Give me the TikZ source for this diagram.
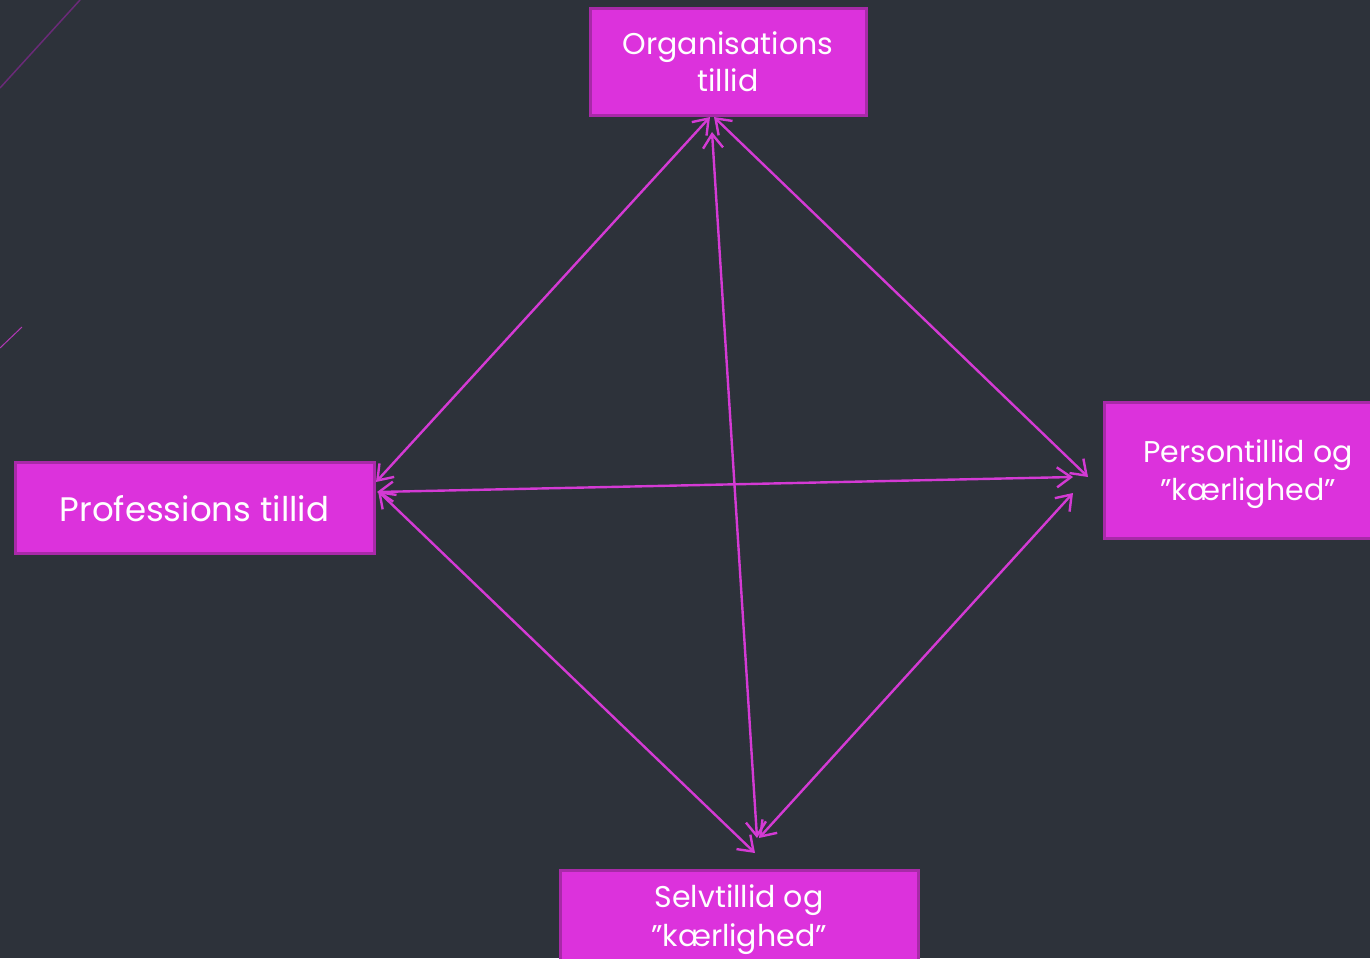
\documentclass[tikz,border=0pt]{standalone}
\usepackage{fontspec}
\setmainfont{Poppins}
\usetikzlibrary{arrows.meta}
\definecolor{bgc}{HTML}{2D323A}
\definecolor{boxfill}{HTML}{DC32DC}
\definecolor{boxline}{HTML}{A82AA8}
\definecolor{conn}{HTML}{D43AD4}
\definecolor{faint}{HTML}{6A2A78}
\begin{document}
\begin{tikzpicture}[x=1pt,y=-1pt,
  boxnode/.style={draw=boxline,line width=3pt,fill=boxfill,text=white,align=center,inner sep=0pt},
  link/.style={conn,line width=2.4pt,{Straight Barb[length=14pt,width=20pt]}-{Straight Barb[length=14pt,width=20pt]}}]
\fill[bgc] (0,0) rectangle (1370,958);
\useasboundingbox (0,0) rectangle (1370,958);
% faint decorative lines
\draw[faint,line width=1.5pt] (80,0) -- (0,88);
\draw[conn!80!bgc,line width=1pt] (22,327) -- (0,348);
% boxes
\node[boxnode,minimum width=276pt,minimum height=106pt] (org) at (728,62) {};
\node[text=white,align=center,font=\fontsize{30}{37}\selectfont] (orgt) at (728,62) {Organisations\\tillid};
\node[boxnode,minimum width=359pt,minimum height=91pt] (prof) at (194.5,507.5) {};
\node[text=white,align=center,font=\fontsize{34}{38}\selectfont] (proft) at (194.5,509) {Professions tillid};
\node[boxnode,minimum width=288pt,minimum height=136pt] (pers) at (1248,470) {};
\node[text=white,align=center,font=\fontsize{30}{38}\selectfont] (perst) at (1248,474) {Persontillid og\\”kærlighed”};
\node[boxnode,minimum width=358pt,minimum height=95pt] (selv) at (739,917.5) {};
\node[text=white,align=center,font=\fontsize{30}{39}\selectfont] (selvt) at (739,920) {Selvtillid og\\”kærlighed”};
% connector end points
\coordinate (profA) at (376,482);
\coordinate (profB) at (377,492);
\coordinate (profC) at (378,491);
\coordinate (orgA) at (710,117);
\coordinate (orgB) at (712,132);
\coordinate (orgC) at (714,117);
\coordinate (persA) at (1088,477);
\coordinate (persB) at (1073,477);
\coordinate (persC) at (1073,493);
\coordinate (selvA) at (757,838);
\coordinate (selvB) at (755,853);
\coordinate (selvC) at (759,838);
% connectors
\draw[link] (profA) -- (orgA);
\draw[link] (orgB) -- (selvA);
\draw[link] (orgC) -- (persA);
\draw[link] (profB) -- (persB);
\draw[link] (profC) -- (selvB);
\draw[link] (persC) -- (selvC);
\end{tikzpicture}
\end{document}
